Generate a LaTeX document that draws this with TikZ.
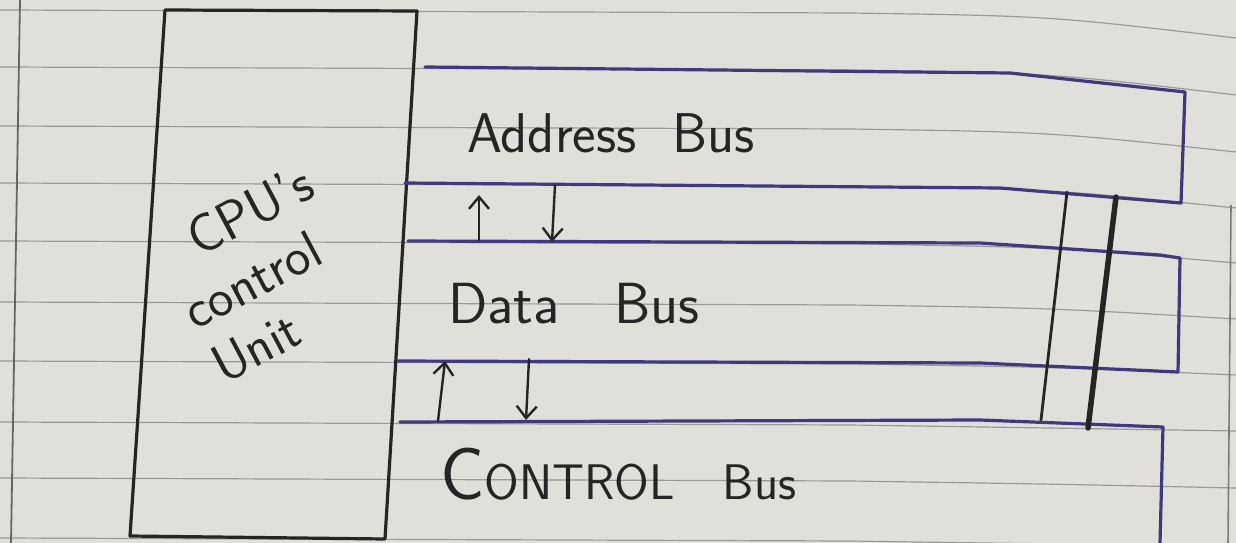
\documentclass[tikz,border=0pt]{standalone}
\usepackage{fontspec}
\usetikzlibrary{arrows.meta}
\definecolor{paper}{RGB}{224,223,218}
\definecolor{ruling}{RGB}{130,130,130}
\definecolor{bluepen}{RGB}{62,58,125}
\definecolor{ink}{RGB}{38,36,36}
\begin{document}
\begin{tikzpicture}[x=1pt,y=-1pt,
  pen/.style={draw=ink,line width=3.2pt,line cap=round,line join=round},
  buspen/.style={draw=bluepen,line width=3.2pt,line cap=round,line join=round},
  ruleline/.style={draw=ruling,line width=1.2pt,opacity=0.75},
  flow/.style={pen,line width=2.4pt,-{Straight Barb[length=12pt,width=20pt,line width=2.4pt]}},
  lbl/.style={font=\sffamily\fontsize{58}{64}\selectfont,text=ink,inner sep=0pt,anchor=base west},
  cpulbl/.style={font=\sffamily\fontsize{54}{60}\selectfont,text=ink,inner sep=0pt,rotate=28}]
\useasboundingbox (0,0) rectangle (1236,543);
\fill[paper] (0,0) rectangle (1236,543);
% ruled paper
\foreach \a/\b in {10/38, 67/95, 126/152, 183/208, 241/263, 302/319, 361/375, 422/431, 478/488, 538/545}
  \draw[ruleline] (0,\a) -- (850,\a+3) .. controls (1050,\a+6) .. (1236,\b);
\draw[draw=ink!70,line width=1.8pt] (20,0) -- (11,543);
\draw[draw=ink!60,line width=1.6pt] (1231,205) -- (1228,543);
% CPU box
\coordinate (cpuTL) at (165,10);
\coordinate (cpuTR) at (417,11);
\coordinate (cpuBR) at (385,539);
\coordinate (cpuBL) at (130,536);
\draw[pen] (cpuTL) -- (cpuTR) -- (cpuBR) -- (cpuBL) -- cycle;
\node[cpulbl] (cpu1) at (250,210) {CPU's};
\node[cpulbl] (cpu2) at (252,280) {control};
\node[cpulbl] (cpu3) at (256,347) {Unit};
% address bus band
\coordinate (a1) at (425,67);
\coordinate (a2) at (1010,73);
\coordinate (a3) at (1185,92);
\coordinate (a4) at (1181,203);
\coordinate (a5) at (1000,188);
\coordinate (a6) at (405,183);
\draw[buspen] (a1) -- (a2) -- (a3) -- (a4) -- (a5) -- (a6);
% data bus band
\coordinate (b1) at (408,241);
\coordinate (b2) at (980,243);
\coordinate (b3) at (1160,255);
\coordinate (b4) at (1180,258);
\coordinate (b5) at (1178,372);
\coordinate (b6) at (980,363);
\coordinate (b7) at (398,361);
\draw[buspen] (b1) -- (b2) -- (b3) -- (b4) -- (b5) -- (b6) -- (b7);
% control bus band
\coordinate (c1) at (400,422);
\coordinate (c2) at (980,420);
\coordinate (c3) at (1163,427);
\coordinate (c4) at (1160,543);
\draw[buspen] (c1) -- (c2) -- (c3) -- (c4);
% labels
\node[lbl,font=\sffamily\fontsize{56}{60}\selectfont] (addr) at (467,152) {Address\hspace{36pt}Bus};
\node[lbl] (data) at (448,323) {Data\hspace{55pt}Bus};
\node[lbl] (ctrl) at (440,499) {{\fontsize{74}{74}\selectfont C}{\fontsize{50}{50}\selectfont ONTROL}\hspace{48pt}{\fontsize{50}{50}\selectfont Bus}};
% arrows between buses
\coordinate (ar1a) at (479,240);
\coordinate (ar1b) at (479,195);
\coordinate (ar2a) at (555,185);
\coordinate (ar2b) at (552,242);
\coordinate (ar3a) at (438,421);
\coordinate (ar3b) at (445,361);
\coordinate (ar4a) at (529,359);
\coordinate (ar4b) at (526,420);
\draw[flow] (ar1a) -- (ar1b);
\draw[flow] (ar2a) -- (ar2b);
\draw[flow] (ar3a) -- (ar3b);
\draw[flow] (ar4a) -- (ar4b);
% vertical strokes on the right
\coordinate (v1t) at (1067,192);
\coordinate (v1b) at (1041,420);
\coordinate (v2t) at (1116,197);
\coordinate (v2b) at (1088,428);
\draw[pen,line width=2.8pt] (v1t) -- (v1b);
\draw[pen,line width=5.5pt] (v2t) -- (v2b);
\end{tikzpicture}
\end{document}
